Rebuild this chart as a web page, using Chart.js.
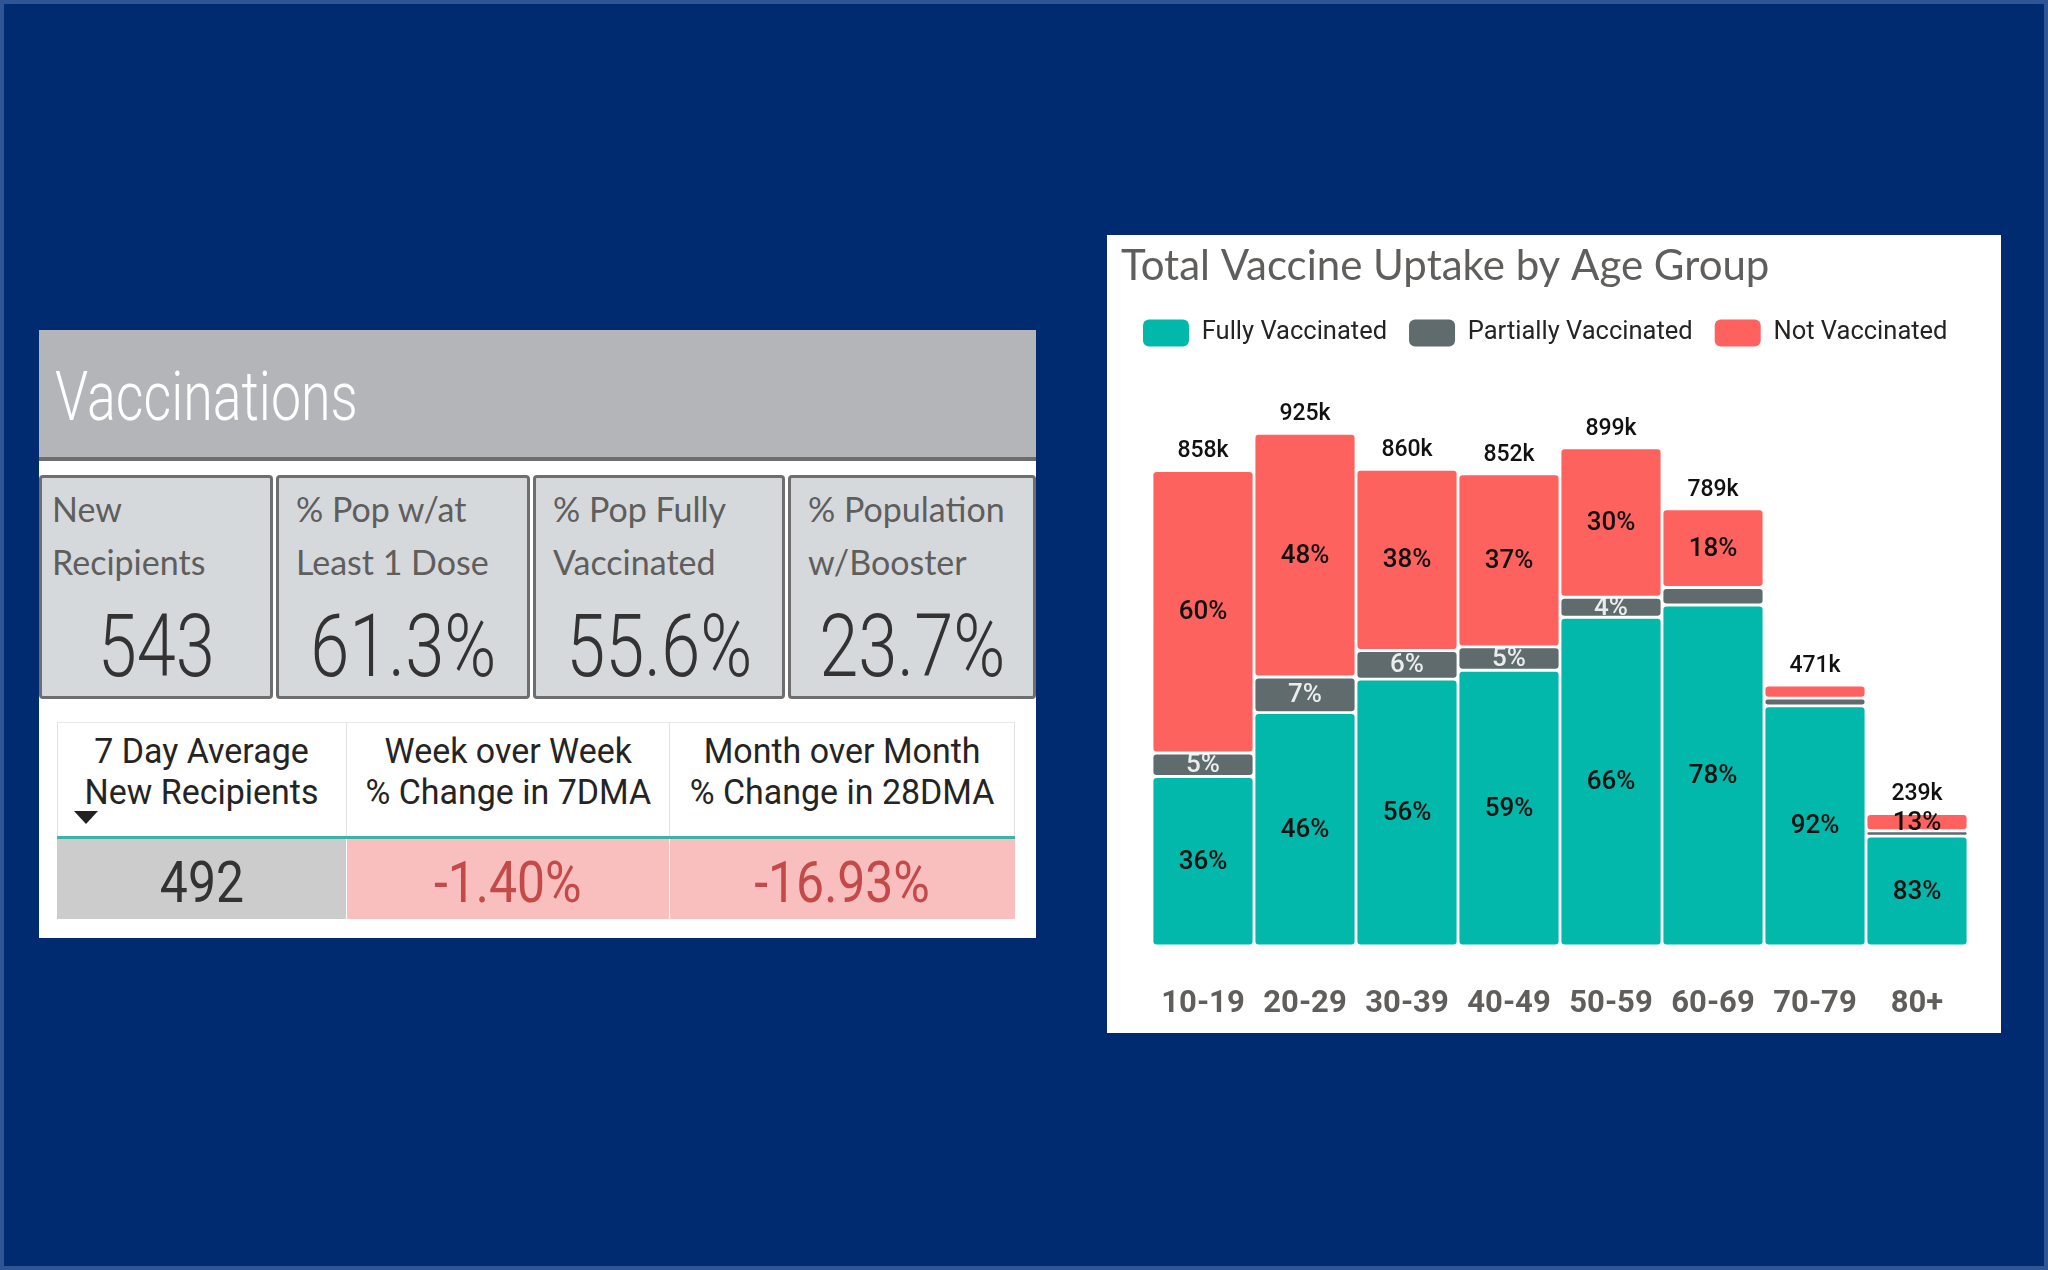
<!DOCTYPE html>
<html>
<head>
<meta charset="utf-8">
<script src="https://cdn.jsdelivr.net/npm/chart.js@4.4.1/dist/chart.umd.min.js"></script>
<style>
  html, body { margin: 0; padding: 0; }
  body { width: 2048px; height: 1270px; background: #002B70; position: relative; overflow: hidden;
         box-shadow: inset 0 0 0 4px #2f5595; }
  .abs { position: absolute; }
  #left { left: 39px; top: 330px; width: 997px; height: 608px; background: #fff; }
  #tbar { left: 0; top: 0; width: 997px; height: 127px; background: #B3B5B8; }
  #tline { left: 0; top: 127px; width: 997px; height: 4px; background: #6d6d6d; }
  #ttext { left: 16px; top: 33px; font: 300 68px/68px Roboto, sans-serif; color: #fff; transform: scaleX(0.79); transform-origin: left top; white-space: nowrap; }
  .card { position: absolute; top: 145px; height: 224px; box-sizing: border-box; border: 3px solid #6e6e6e; border-radius: 4px; background: #D6D9DC; }
  .clabel { position: absolute; left: 17px; top: 4px; font: 400 34px/53px Lato, sans-serif; color: #605E5C; white-space: nowrap; }
  .cval { position: absolute; left: 0; right: 0; top: 124px; text-align: center; font: 300 88px/88px Roboto, sans-serif; color: #333; white-space: nowrap; }
  .cval span { display: inline-block; transform: scaleX(0.8); transform-origin: center top; }
  #table { left: 18px; top: 392px; width: 958px; height: 196px; }
  .hcell { position: absolute; top: 0; height: 114px; box-sizing: border-box; border-left: 1px solid #e2e2e2; border-top: 1px solid #e8e8e8; background: #fff; }
  .htext { position: absolute; left: 0; right: 0; top: 8px; text-align: center; font: 400 35px/41px Roboto, sans-serif; color: #252423; white-space: nowrap; }
  .htext span { display: inline-block; transform: scaleX(0.97); transform-origin: center top; }
  #teal { left: 0; top: 114px; width: 958px; height: 3px; background: #3BB3A7; }
  .vcell { position: absolute; top: 117px; height: 80px; box-sizing: border-box; }
  .vtext { position: absolute; left: 0; right: 0; top: 14px; text-align: center; font: 400 58px/58px Roboto, sans-serif; white-space: nowrap; }
  .vtext span { display: inline-block; transform: scaleX(0.86); transform-origin: center top; }
  #arrow { left: 17px; top: 89px; width: 0; height: 0; border-left: 12px solid transparent; border-right: 12px solid transparent; border-top: 13px solid #222; }
  #chartPanel { left: 1107px; top: 235px; width: 894px; height: 798px; background: #fff; }
</style>
</head>
<body>
<div id="left" class="abs">
  <div id="tbar" class="abs"></div>
  <div id="tline" class="abs"></div>
  <div id="ttext" class="abs">Vaccinations</div>

  <div class="card" style="left:0;width:234px;">
    <div class="clabel" style="left:10px;">New<br>Recipients</div>
    <div class="cval"><span>543</span></div>
  </div>
  <div class="card" style="left:237px;width:254px;">
    <div class="clabel">% Pop w/at<br>Least 1 Dose</div>
    <div class="cval"><span>61.3%</span></div>
  </div>
  <div class="card" style="left:494px;width:252px;">
    <div class="clabel">% Pop Fully<br>Vaccinated</div>
    <div class="cval"><span>55.6%</span></div>
  </div>
  <div class="card" style="left:749px;width:248px;">
    <div class="clabel">% Population<br>w/Booster</div>
    <div class="cval"><span>23.7%</span></div>
  </div>

  <div id="table" class="abs">
    <div class="hcell" style="left:0;width:289px;"><div class="htext"><span>7 Day Average<br>New Recipients</span></div></div>
    <div class="hcell" style="left:289px;width:323px;"><div class="htext"><span>Week over Week<br>% Change in 7DMA</span></div></div>
    <div class="hcell" style="left:612px;width:346px;border-right:1px solid #e2e2e2;"><div class="htext"><span>Month over Month<br>% Change in 28DMA</span></div></div>
    <div id="arrow" class="abs"></div>
    <div id="teal" class="abs"></div>
    <div class="vcell" style="left:0;width:289px;background:#CCCCCC;"><div class="vtext" style="color:#333;"><span>492</span></div></div>
    <div class="vcell" style="left:290px;width:322px;background:#F9BEBE;"><div class="vtext" style="color:#C44A4A;"><span>-1.40%</span></div></div>
    <div class="vcell" style="left:613px;width:345px;background:#F9BEBE;"><div class="vtext" style="color:#C44A4A;"><span>-16.93%</span></div></div>
  </div>
</div>

<div id="chartPanel" class="abs"><canvas id="chart" width="894" height="798"></canvas></div>

<script>
// ---- data ----
const ageGroups = ['10-19', '20-29', '30-39', '40-49', '50-59', '60-69', '70-79', '80+'];
const totalK = [858, 925, 860, 852, 899, 789, 471, 239];
const fullyPct = [36, 46, 56, 59, 66, 78, 92, 83];
const partialPct = [5, 7, 6, 5, 4, 4, 3, 4];
const notPct = [60, 48, 38, 37, 30, 18, 5, 13];
const fullyLabelShown = [true, true, true, true, true, true, true, true];
const partialLabelShown = [true, true, true, true, true, false, false, false];
const notLabelShown = [true, true, true, true, true, true, false, true];
const seriesNames = ['Fully Vaccinated', 'Partially Vaccinated', 'Not Vaccinated'];

const pctSeries = [fullyPct, partialPct, notPct];
const shownSeries = [fullyLabelShown, partialLabelShown, notLabelShown];
const colors = ['#01B8AA', '#5F6B6D', '#FD625E'];
const labelColors = ['#111111', 'rgba(255,255,255,0.88)', '#111111'];

// segment sizes (thousands): each group's total split by its shares
const sums = ageGroups.map((_, i) => fullyPct[i] + partialPct[i] + notPct[i]);
const segValues = pctSeries.map(p => p.map((v, i) => totalK[i] * v / sums[i]));

const radius = { topLeft: 5, topRight: 5, bottomLeft: 5, bottomRight: 5 };

const datasets = seriesNames.map((name, k) => ({
  label: name,
  data: segValues[k],
  backgroundColor: colors[k],
  borderColor: '#ffffff',
  borderWidth: 1.75,
  borderSkipped: false,
  borderRadius: radius,
  barPercentage: 1,
  categoryPercentage: 1,
  pct: pctSeries[k],
  shown: shownSeries[k],
  labelColor: labelColors[k]
}));

const labelPlugin = {
  id: 'segLabels',
  afterDatasetsDraw(chart) {
    const ctx = chart.ctx;
    ctx.save();
    ctx.textAlign = 'center';
    ctx.textBaseline = 'middle';
    chart.data.datasets.forEach((ds, di) => {
      const meta = chart.getDatasetMeta(di);
      meta.data.forEach((bar, i) => {
        if (!ds.shown[i]) return;
        const p = bar.getProps(['x', 'y', 'base'], true);
        ctx.font = '500 26px Roboto';
        ctx.fillStyle = ds.labelColor;
        ctx.fillText(ds.pct[i] + '%', p.x, (p.y + p.base) / 2 + 1);
      });
    });
    const top = chart.getDatasetMeta(chart.data.datasets.length - 1);
    ctx.font = '500 23px Roboto';
    ctx.fillStyle = '#111111';
    top.data.forEach((bar, i) => {
      const p = bar.getProps(['x', 'y'], true);
      ctx.fillText(totalK[i] + 'k', p.x, p.y - 19);
    });
    ctx.restore();
  }
};

new Chart(document.getElementById('chart'), {
  type: 'bar',
  data: { labels: ageGroups, datasets },
  options: {
    responsive: false,
    animation: false,
    layout: { padding: { left: 14, right: 0, top: 0, bottom: 14 } },
    plugins: {
      tooltip: { enabled: false },
      title: {
        display: true,
        text: 'Total Vaccine Uptake by Age Group',
        align: 'start',
        color: '#605E5C',
        font: { family: 'Lato', size: 42, weight: '400' },
        padding: { top: 6, bottom: 6 }
      },
      legend: {
        display: true,
        align: 'start',
        labels: {
          boxWidth: 46,
          boxHeight: 27,
          useBorderRadius: true,
          borderRadius: 6,
          padding: 22,
          color: '#252423',
          font: { family: 'Roboto', size: 25.5, weight: '400' },
          generateLabels(chart) {
            return chart.data.datasets.map((ds, i) => ({
              text: ds.label,
              fillStyle: ds.backgroundColor,
              strokeStyle: ds.backgroundColor,
              lineWidth: 0,
              fontColor: '#252423',
              hidden: false,
              borderRadius: 6,
              datasetIndex: i
            }));
          }
        }
      }
    },
    scales: {
      x: {
        stacked: true,
        grid: { display: false, drawTicks: false },
        border: { display: false },
        ticks: { padding: 40, color: '#605E5C', font: { family: 'Roboto', size: 31, weight: '700' } },
        afterFit(scale) { scale.height = 73; }
      },
      y: {
        stacked: true,
        min: 0,
        max: 1064,
        grid: { display: false, drawTicks: false },
        border: { display: false },
        ticks: { display: false },
        afterFit(scale) { scale.width = 31; }
      },
      yRight: {
        position: 'right',
        display: true,
        grid: { display: false, drawTicks: false },
        border: { display: false },
        ticks: { display: false },
        afterFit(scale) { scale.width = 33; }
      }
    }
  },
  plugins: [labelPlugin]
});
</script>
</body>
</html>
